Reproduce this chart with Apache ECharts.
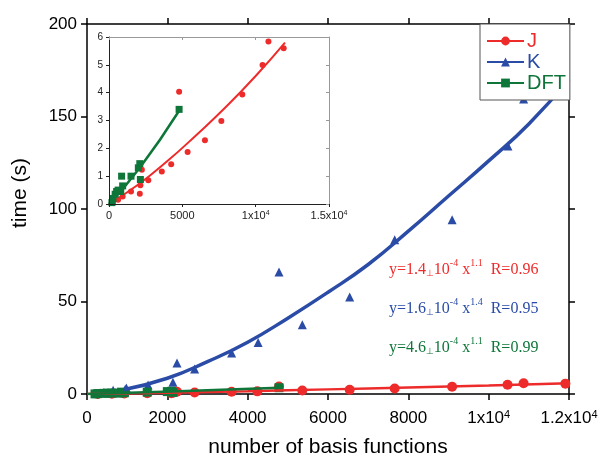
<!DOCTYPE html>
<html>
<head>
<meta charset="utf-8">
<script src="https://cdn.jsdelivr.net/npm/echarts@6/dist/echarts.min.js"></script>
<style>
  html, body { margin: 0; padding: 0; background: #fff; }
  #myChart { width: 600px; height: 458px; }
</style>
</head>
<body>
<div id="myChart"></div>
<script>
  // measured points (number of basis functions, time in s)
  const jX = [270, 620, 930, 1500, 2100, 2140, 2240, 2680, 3600, 4240, 4780, 5360, 6540, 7660, 9090, 10470, 10870, 11910];
  const jY = [0.06, 0.15, 0.27, 0.45, 0.37, 0.67, 1.23, 0.85, 1.17, 1.43, 4.03, 1.87, 2.29, 2.98, 3.93, 4.99, 5.84, 5.60];

  const kX = [270, 420, 650, 950, 980, 1520, 2140, 2240, 2680, 3600, 4260, 4780, 5360, 6540, 7660, 9090, 10480, 10870];
  const kY = [0.3, 0.8, 2.0, 2.6, 3.2, 4.9, 6.3, 16.7, 13.5, 22.1, 27.9, 65.9, 37.4, 52.4, 83.4, 94.2, 134.1, 159.4];

  const dX = [200, 270, 420, 520, 620, 800, 860, 930, 1500, 2000, 2100, 2140, 4780];
  const dY = [0.05, 0.2, 0.35, 0.45, 0.5, 0.45, 1.0, 0.65, 1.0, 1.3, 1.45, 0.88, 3.4];

  // fitted curves
  const jFitX = [0, 2000, 4000, 6000, 8000, 10000, 12000];
  const jFitY = [0, 0.7, 1.55, 2.5, 3.5, 4.6, 5.8];
  const kFitX = [900, 2000, 3000, 4000, 5000, 6000, 7000, 8000, 9000, 10000, 11000, 12000];
  const kFitY = [2.3, 8.5, 17.5, 28, 41, 55, 70, 88, 107, 126, 146, 170];
  const dFitX = [0, 2100, 4780];
  const dFitY = [0, 1.3, 3.35];

  const fitTexts = [
    ['1.4', '1.1', '0.96'],
    ['1.6', '1.4', '0.95'],
    ['4.6', '1.1', '0.99']
  ];

  const RED = '#ee2b2b', BLUE = '#2a4ca6', GREEN = '#0f763a';
  const SANS = 'Liberation Sans';

  const zip = (xs, ys) => xs.map((x, i) => [x, ys[i]]);

  const sciLabel = (v) => {
    if (v === 10000) return '{b|1x10}{s|4}';
    if (v === 12000) return '{b|1.2x10}{s|4}';
    if (v === 15000) return '{b|1.5x10}{s|4}';
    return '{b|' + v + '}';
  };

  const dom = document.getElementById('myChart');
  const myChart = echarts.init(dom);

  const formulas = fitTexts.map((t, i) => ({
    type: 'text',
    left: 389,
    top: 258 + i * 39,
    z: 10,
    style: {
      text: '{n|y=' + t[0] + '}{m|⊥}{n|10}{s|-4}{n| x}{s|' + t[1] + '}{n|  R=' + t[2] + '}',
      fill: [RED, BLUE, GREEN][i],
      rich: {
        n: { fontSize: 16, fontFamily: 'Liberation Serif', lineHeight: 20, verticalAlign: 'bottom' },
        m: { fontSize: 9, fontFamily: 'DejaVu Sans', lineHeight: 20, verticalAlign: 'bottom' },
        s: { fontSize: 10, fontFamily: 'Liberation Serif', lineHeight: 12, verticalAlign: 'top' }
      }
    }
  }));

  const line0 = (color, width) => ({ onZero: false, lineStyle: { color: color, width: width } });

  const option = {
    animation: false,
    backgroundColor: '#fff',
    textStyle: { fontFamily: SANS },
    legend: {
      orient: 'vertical',
      left: 480,
      top: 24,
      padding: [7, 4, 7, 6],
      itemGap: 1,
      itemWidth: 37,
      itemHeight: 11,
      backgroundColor: '#fff',
      borderColor: '#555',
      borderWidth: 1,
      borderRadius: 0,
      z: 20,
      textStyle: { fontSize: 20, fontFamily: SANS, lineHeight: 20, padding: [0, 0, 0, -2] },
      data: [
        { name: 'J', textStyle: { color: RED } },
        { name: 'K', textStyle: { color: BLUE } },
        { name: 'DFT', textStyle: { color: GREEN } }
      ]
    },
    grid: [
      { left: 87, right: 31, top: 24, bottom: 64, outerBoundsMode: 'none' },
      { left: 109, right: 271, top: 37, bottom: 254, outerBoundsMode: 'none',
        show: true, backgroundColor: '#fff', borderWidth: 0, z: 1 }
    ],
    xAxis: [
      {
        type: 'value', gridIndex: 0, min: 0, max: 12000, interval: 2000,
        name: 'number of basis functions', nameLocation: 'middle', nameGap: 43,
        nameTextStyle: { fontSize: 21, color: '#000', fontFamily: SANS },
        axisLine: line0('#000', 1.5),
        axisTick: { length: 6, lineStyle: { color: '#000', width: 1.5 } },
        splitLine: { show: false },
        axisLabel: {
          margin: 15, formatter: sciLabel,
          rich: {
            b: { fontSize: 17, color: '#000', fontFamily: SANS, lineHeight: 18 },
            s: { fontSize: 11, color: '#000', fontFamily: SANS, lineHeight: 10, verticalAlign: 'top' }
          }
        }
      },
      {
        type: 'value', gridIndex: 0, position: 'top', min: 0, max: 12000, interval: 2000,
        axisLine: line0('#000', 1.5),
        axisTick: { length: 6, lineStyle: { color: '#000', width: 1.5 } },
        axisLabel: { show: false }, splitLine: { show: false }
      },
      {
        type: 'value', gridIndex: 1, min: 0, max: 15000, interval: 5000, z: 5,
        axisLine: line0('#222', 1),
        axisTick: { length: 3, lineStyle: { color: '#222', width: 1 } },
        splitLine: { show: false },
        axisLabel: {
          margin: 6, formatter: sciLabel,
          rich: {
            b: { fontSize: 11, color: '#222', fontFamily: SANS, lineHeight: 12 },
            s: { fontSize: 7, color: '#222', fontFamily: SANS, lineHeight: 7, verticalAlign: 'top' }
          }
        }
      },
      {
        type: 'value', gridIndex: 1, position: 'top', min: 0, max: 15000, interval: 5000, z: 5,
        axisLine: line0('#999', 1),
        axisTick: { inside: true, length: 3, lineStyle: { color: '#999', width: 1 } },
        axisLabel: { show: false }, splitLine: { show: false }
      }
    ],
    yAxis: [
      {
        type: 'value', gridIndex: 0, min: 0, max: 200, interval: 50,
        name: 'time (s)', nameLocation: 'middle', nameGap: 56,
        nameTextStyle: { fontSize: 21, color: '#000', fontFamily: SANS, padding: [0, 0, 0, 32] },
        axisLine: line0('#000', 1.5),
        axisTick: { length: 6, lineStyle: { color: '#000', width: 1.5 } },
        splitLine: { show: false },
        axisLabel: { margin: 10, fontSize: 17, color: '#000', fontFamily: SANS }
      },
      {
        type: 'value', gridIndex: 0, position: 'right', min: 0, max: 200, interval: 50,
        axisLine: line0('#000', 1.5),
        axisTick: { length: 6, lineStyle: { color: '#000', width: 1.5 } },
        axisLabel: { show: false }, splitLine: { show: false }
      },
      {
        type: 'value', gridIndex: 1, min: 0, max: 6, interval: 1, z: 5,
        axisLine: line0('#222', 1),
        axisTick: { length: 3, lineStyle: { color: '#222', width: 1 } },
        splitLine: { show: false },
        axisLabel: { margin: 6, fontSize: 10, color: '#222', fontFamily: SANS }
      },
      {
        type: 'value', gridIndex: 1, position: 'right', min: 0, max: 6, interval: 1, z: 5,
        axisLine: line0('#999', 1),
        axisTick: { inside: true, length: 3, lineStyle: { color: '#999', width: 1 } },
        axisLabel: { show: false }, splitLine: { show: false }
      }
    ],
    graphic: formulas,
    series: [
      // main chart
      {
        name: 'K', type: 'line', xAxisIndex: 0, yAxisIndex: 0, data: zip(kFitX, kFitY),
        smooth: true, symbol: 'triangle', symbolSize: 8, showSymbol: false,
        lineStyle: { color: BLUE, width: 3.5 }, itemStyle: { color: BLUE }
      },
      {
        name: 'K', type: 'scatter', xAxisIndex: 0, yAxisIndex: 0, data: zip(kX, kY),
        symbol: 'triangle', symbolSize: 9, itemStyle: { color: BLUE, opacity: 1 }
      },
      {
        name: 'J', type: 'line', xAxisIndex: 0, yAxisIndex: 0, data: zip(jFitX, jFitY),
        smooth: true, symbol: 'circle', symbolSize: 8, showSymbol: false,
        lineStyle: { color: RED, width: 2.5 }, itemStyle: { color: RED }
      },
      {
        name: 'J', type: 'scatter', xAxisIndex: 0, yAxisIndex: 0, data: zip(jX, jY),
        symbol: 'circle', symbolSize: 10, itemStyle: { color: RED, opacity: 1 }
      },
      {
        name: 'DFT', type: 'line', xAxisIndex: 0, yAxisIndex: 0, data: zip(dFitX, dFitY),
        smooth: true, symbol: 'rect', symbolSize: 8, showSymbol: false,
        lineStyle: { color: GREEN, width: 2.5 }, itemStyle: { color: GREEN }
      },
      {
        name: 'DFT', type: 'scatter', xAxisIndex: 0, yAxisIndex: 0, data: zip(dX, dY),
        symbol: 'rect', symbolSize: 9, itemStyle: { color: GREEN, opacity: 1 }
      },
      // inset
      {
        name: 'J inset', type: 'line', xAxisIndex: 2, yAxisIndex: 2, data: zip(jFitX, jFitY),
        smooth: true, showSymbol: false, z: 3,
        lineStyle: { color: RED, width: 2 }
      },
      {
        name: 'J inset pts', type: 'scatter', xAxisIndex: 2, yAxisIndex: 2, data: zip(jX, jY),
        symbol: 'circle', symbolSize: 6, z: 3, itemStyle: { color: RED, opacity: 1 }
      },
      {
        name: 'DFT inset', type: 'line', xAxisIndex: 2, yAxisIndex: 2, data: zip(dFitX, dFitY),
        smooth: true, showSymbol: false, z: 3,
        lineStyle: { color: GREEN, width: 2.5 }
      },
      {
        name: 'DFT inset pts', type: 'scatter', xAxisIndex: 2, yAxisIndex: 2, data: zip(dX, dY),
        symbol: 'rect', symbolSize: 7, z: 3, itemStyle: { color: GREEN, opacity: 1 }
      }
    ]
  };

  myChart.setOption(option);
</script>
</body>
</html>
